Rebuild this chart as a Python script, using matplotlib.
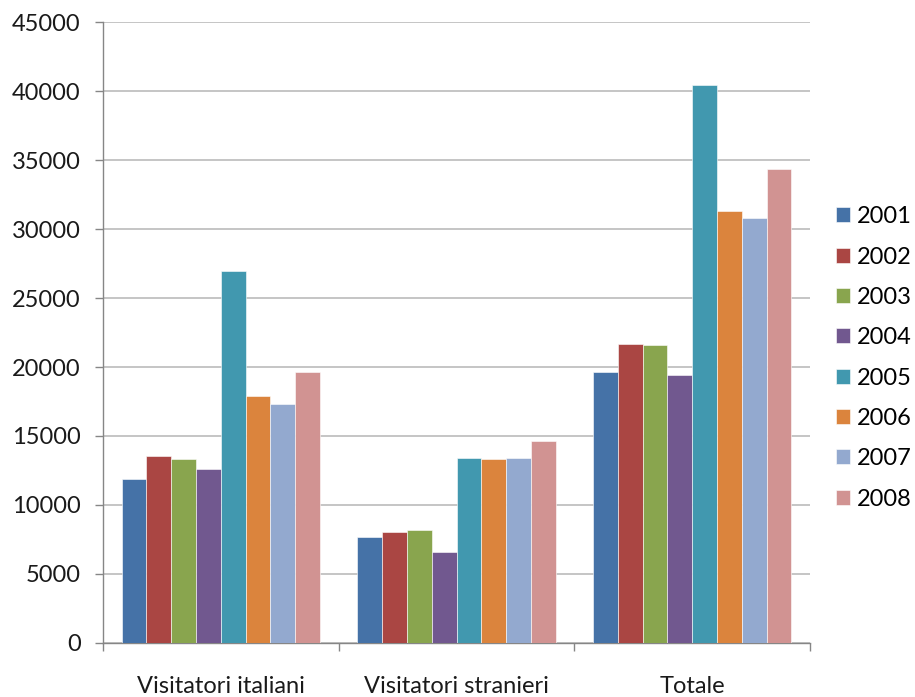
import numpy as np
import matplotlib
matplotlib.use('Agg')
import matplotlib.pyplot as plt
from matplotlib.patches import Patch

plt.rcParams['font.family'] = ['Lato', 'DejaVu Sans']

categories = ['Visitatori italiani', 'Visitatori stranieri', 'Totale']
years = ['2001', '2002', '2003', '2004', '2005', '2006', '2007', '2008']

# one list per year: italiani, stranieri, totale
v2001 = [11860, 7680, 19620]
v2002 = [13550, 8020, 21670]
v2003 = [13310, 8170, 21570]
v2004 = [12610, 6620, 19400]
v2005 = [26980, 13400, 40460]
v2006 = [17900, 13360, 31330]
v2007 = [17300, 13400, 30800]
v2008 = [19620, 14610, 34330]
series = [v2001, v2002, v2003, v2004, v2005, v2006, v2007, v2008]

colors = ['#4572A7', '#AA4643', '#89A54E', '#71588F',
          '#4198AF', '#DB843D', '#93A9CF', '#D19392']

yticks = np.arange(0, 45001, 5000)
fs = 17

fig = plt.figure(figsize=(9.15, 6.97), dpi=100)
ax = fig.add_axes([0.1126, 0.0775, 0.7727, 0.8909])

n = len(series)
bar_w = 1.0 / (n + 1.5)
x = np.arange(len(categories))
for i, vals in enumerate(series):
    offs = (i - (n - 1) / 2) * bar_w
    ax.bar(x + offs, vals, width=bar_w, color=colors[i],
           edgecolor='white', linewidth=0.4, zorder=3)

ax.set_xlim(-0.5, len(categories) - 0.5)
ax.set_ylim(0, 45000)
ax.set_yticks(yticks)
ax.set_yticklabels([str(v) for v in yticks], fontsize=fs, color='#1a1a1a')
ax.yaxis.grid(True, color='#c0c0c0', linewidth=1.3, zorder=0)
ax.set_axisbelow(True)

ax.set_xticks(x)
ax.set_xticklabels(categories, fontsize=fs, color='#1a1a1a')
ax.set_xticks(np.arange(-0.5, len(categories)), minor=True)
ax.tick_params(axis='x', which='major', length=0, pad=24)
ax.tick_params(axis='x', which='minor', length=6, color='#868686', width=1)
ax.tick_params(axis='y', length=6, color='#868686', width=1, pad=10)

for side in ['top', 'right']:
    ax.spines[side].set_visible(False)
for side in ['left', 'bottom']:
    ax.spines[side].set_color('#868686')
    ax.spines[side].set_linewidth(1)

handles = [Patch(facecolor=c, edgecolor='white', linewidth=0.4) for c in colors]
fig.legend(handles, years, loc='center left', bbox_to_anchor=(0.914, 0.4865),
           frameon=False, fontsize=fs, handlelength=0.6, handleheight=0.6,
           handletextpad=0.25, labelspacing=0.82, borderpad=0,
           borderaxespad=0)

fig.savefig('out.png', dpi=100)
